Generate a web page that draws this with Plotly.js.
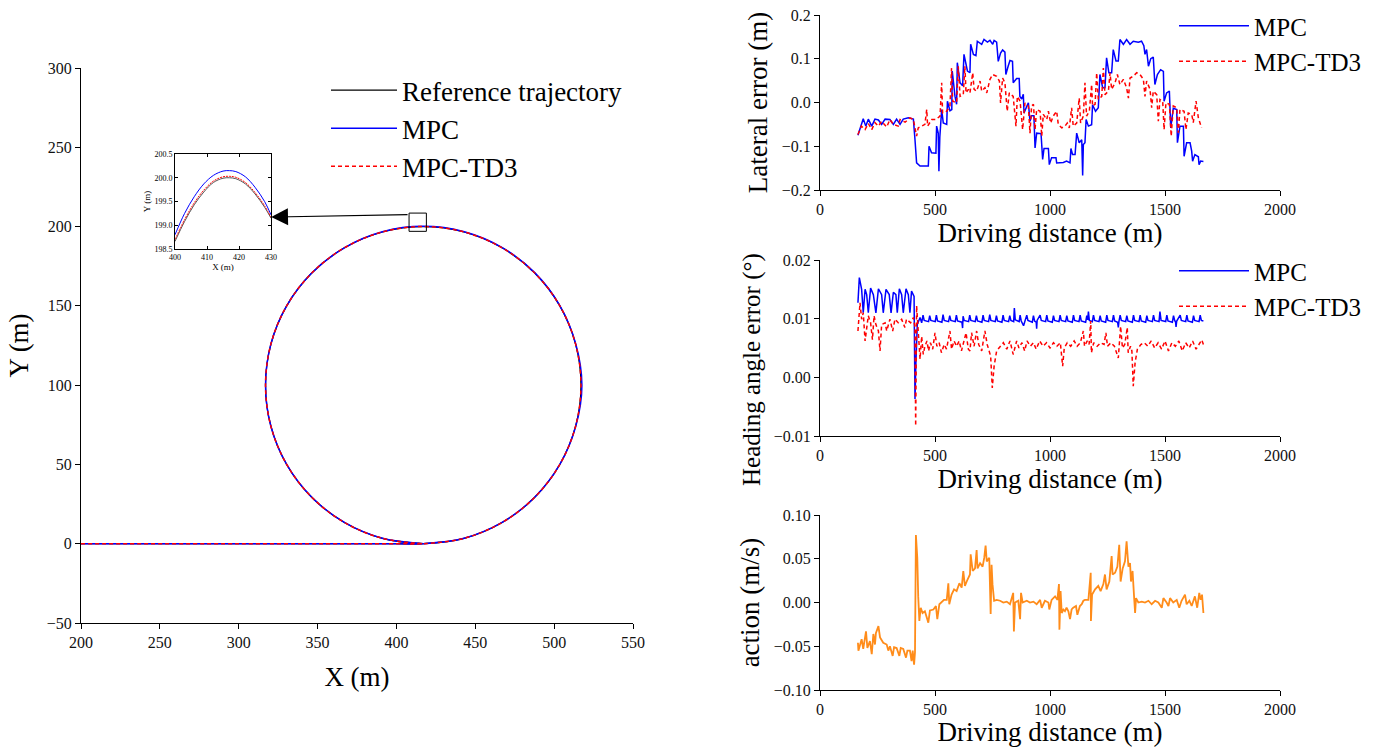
<!DOCTYPE html>
<html>
<head>
<meta charset="utf-8">
<script src="https://cdn.plot.ly/plotly-3.0.1.min.js"></script>
<style>html,body{margin:0;padding:0;background:#fff;}#chart{width:1386px;height:747px;}</style>
</head>
<body>
<div id="chart"></div>
<script>
// ---------------- DATA ----------------
// Trajectory (main plot): straight lead-in then circle (X, Y in m)
const trajRef = [[200,0],[300,0],[400,0],[417,0],[442.9,3.4],[467,13.4],[487.7,29.3],[503.6,50],[513.6,74.1],[517,100],[513.6,125.9],[503.6,150],[487.7,170.7],[467,186.6],[442.9,196.6],[417,200],[391.1,196.6],[367,186.6],[346.3,170.7],[330.4,150],[320.4,125.9],[317,100],[320.4,74.1],[330.4,50],[346.3,29.3],[367,13.4],[391.1,3.4],[417,0]];
const trajMPC = [[200,0],[300,0],[400,0],[417,0],[442.9,3.4],[467,13.4],[487.7,29.3],[503.6,50],[513.7,74.1],[517.6,100],[513.7,125.9],[503.7,150],[487.8,170.8],[467.1,186.7],[443,196.7],[417,200.15],[391.1,196.7],[367,186.6],[346.3,170.7],[330.4,150],[320.4,125.9],[317,100],[320.4,74.1],[330.4,50],[346.3,29.3],[367,13.4],[391.1,3.4],[417,0]];
const trajTD3 = [[200,0],[300,0],[400,0],[417,0],[442.9,3.4],[467,13.4],[487.7,29.3],[503.6,50],[513.6,74.1],[517,100],[513.6,125.9],[503.6,150],[487.7,170.7],[467,186.6],[442.9,196.6],[417,200.03],[391.1,196.6],[367,186.6],[346.3,170.7],[330.4,150],[320.4,125.9],[317,100],[320.4,74.1],[330.4,50],[346.3,29.3],[367,13.4],[391.1,3.4],[417,0]];

// Inset (zoom near the top of the circle)
const insetX    = [400,403,406,409,412,415,417,419,422,425,428,430];
const insetRefY = [198.66,199.08,199.43,199.70,199.90,199.99,200.00,199.98,199.87,199.66,199.38,199.15];
const insetMPCY = [198.80,199.25,199.60,199.87,200.05,200.14,200.15,200.13,200.02,199.80,199.50,199.22];
const insetTD3Y = [198.70,199.12,199.47,199.74,199.93,200.02,200.03,200.01,199.90,199.69,199.41,199.17];

// Lateral error (m) vs driving distance (m)
const latMPC = [[165,-0.075],[174,-0.062],[188,-0.037],[199,-0.054],[210,-0.038],[225,-0.054],[239,-0.038],[254,-0.040],[268,-0.050],[283,-0.038],[304,-0.039],[319,-0.050],[333,-0.038],[348,-0.050],[362,-0.038],[384,-0.035],[406,-0.038],[413,-0.085],[420,-0.138],[435,-0.145],[471,-0.145],[474,-0.100],[485,-0.115],[504,-0.116],[507,-0.054],[514,-0.070],[517,-0.157],[521,-0.079],[529,-0.016],[536,-0.047],[551,-0.050],[554,0.003],[565,-0.019],[573,-0.016],[575,0.072],[587,0.014],[594,-0.004],[597,0.091],[609,0.045],[620,0.038],[626,0.110],[641,0.072],[652,0.068],[655,0.133],[667,0.110],[678,0.107],[684,0.140],[703,0.133],[713,0.144],[728,0.138],[739,0.142],[751,0.133],[757,0.142],[768,0.138],[775,0.094],[785,0.113],[794,0.120],[804,0.115],[808,0.064],[818,0.083],[826,0.096],[837,0.094],[840,0.045],[855,0.055],[866,0.055],[869,0.014],[877,0.008],[884,0.019],[887,-0.024],[898,-0.010],[906,-0.001],[913,-0.043],[920,-0.030],[930,-0.030],[935,-0.104],[942,-0.070],[961,-0.071],[968,-0.130],[974,-0.105],[993,-0.105],[997,-0.142],[1007,-0.126],[1026,-0.126],[1029,-0.138],[1043,-0.138],[1058,-0.137],[1072,-0.134],[1087,-0.138],[1091,-0.105],[1098,-0.119],[1109,-0.119],[1116,-0.070],[1127,-0.092],[1138,-0.085],[1142,-0.167],[1145,-0.096],[1152,-0.092],[1157,-0.039],[1167,-0.054],[1181,-0.051],[1185,-0.005],[1198,-0.020],[1210,-0.012],[1217,0.064],[1229,0.034],[1239,0.034],[1246,0.102],[1256,0.068],[1268,0.068],[1275,0.121],[1287,0.095],[1297,0.095],[1304,0.144],[1319,0.133],[1333,0.144],[1348,0.133],[1362,0.140],[1384,0.138],[1398,0.140],[1408,0.130],[1413,0.110],[1420,0.121],[1428,0.083],[1438,0.100],[1449,0.104],[1456,0.041],[1467,0.064],[1481,0.075],[1493,0.071],[1496,0.003],[1507,0.022],[1519,0.026],[1525,-0.058],[1536,-0.013],[1551,-0.016],[1554,-0.092],[1565,-0.054],[1580,-0.054],[1583,-0.123],[1594,-0.092],[1609,-0.092],[1616,-0.111],[1620,-0.134],[1630,-0.119],[1645,-0.124],[1648,-0.142],[1655,-0.134],[1667,-0.135]];
const latTD3 = [[165,-0.073],[180,-0.054],[196,-0.062],[210,-0.048],[225,-0.062],[239,-0.046],[254,-0.054],[268,-0.043],[290,-0.056],[304,-0.039],[319,-0.050],[340,-0.054],[348,-0.039],[370,-0.045],[391,-0.035],[406,-0.039],[420,-0.077],[427,-0.058],[442,-0.054],[456,-0.050],[464,-0.016],[468,-0.054],[486,-0.039],[504,-0.039],[522,-0.031],[529,0.045],[533,-0.024],[551,-0.020],[565,-0.008],[572,0.079],[577,0.003],[594,-0.001],[601,0.083],[609,0.014],[623,0.018],[630,0.083],[635,0.022],[645,0.030],[652,0.022],[664,0.068],[670,0.030],[681,0.026],[696,0.049],[703,0.026],[717,0.034],[725,0.022],[739,0.053],[751,0.064],[768,0.060],[780,0.049],[785,-0.001],[794,0.056],[804,0.045],[814,-0.020],[823,0.022],[840,0.014],[852,-0.054],[858,0.014],[870,0.003],[881,-0.062],[891,-0.001],[906,-0.008],[913,-0.070],[920,-0.008],[928,-0.004],[935,-0.062],[942,-0.016],[957,-0.020],[964,-0.077],[971,-0.027],[986,-0.039],[993,-0.020],[1003,-0.047],[1014,-0.031],[1029,-0.020],[1036,-0.050],[1051,-0.058],[1065,-0.054],[1075,-0.047],[1084,-0.058],[1094,-0.012],[1101,-0.054],[1116,-0.047],[1127,0.010],[1133,-0.047],[1145,-0.031],[1152,0.045],[1159,-0.031],[1171,-0.020],[1181,0.041],[1185,-0.008],[1196,-0.004],[1203,0.068],[1210,0.007],[1225,0.014],[1232,0.079],[1239,0.018],[1254,0.026],[1261,0.068],[1268,0.030],[1283,0.045],[1293,0.064],[1304,0.041],[1319,0.053],[1333,0.034],[1341,0.010],[1348,0.056],[1362,0.060],[1377,0.068],[1391,0.064],[1406,0.053],[1413,0.014],[1420,0.049],[1435,0.030],[1442,-0.012],[1449,0.026],[1464,0.018],[1471,-0.043],[1478,0.007],[1490,0.003],[1496,-0.062],[1504,-0.001],[1519,-0.004],[1527,-0.077],[1536,-0.008],[1551,-0.012],[1558,-0.069],[1565,-0.016],[1583,-0.020],[1591,-0.062],[1601,-0.024],[1616,-0.027],[1623,-0.046],[1635,0.003],[1645,-0.035],[1659,-0.058]];

// Heading angle error (°) vs driving distance (m)
const headMPC = [[165,0.0127],[171,0.0170],[181,0.0150],[188,0.0110],[196,0.0150],[203,0.0141],[210,0.0110],[220,0.0152],[232,0.0141],[243,0.0110],[254,0.0151],[268,0.0141],[275,0.0110],[287,0.0150],[301,0.0141],[309,0.0110],[319,0.0145],[330,0.0141],[336,0.0110],[345,0.0151],[355,0.0141],[362,0.0110],[374,0.0151],[384,0.0141],[391,0.0110],[398,0.0147],[409,0.0138],[413,-0.0037],[417,0.0025],[423,0.0090],[435,0.0102],[442,0.0093],
[448,0.0106],[453,0.0097],[472,0.0095],[477,0.0105],[482,0.0097],[501,0.0095],[506,0.0106],[511,0.0096],[530,0.0094],[535,0.0107],[540,0.0097],[559,0.0095],[564,0.0105],[569,0.0097],[588,0.0095],[593,0.0106],[598,0.0096],[617,0.0094],[620,0.0084],[622,0.0104],[627,0.0097],[646,0.0095],[651,0.0106],[656,0.0097],[675,0.0095],[680,0.0105],[685,0.0096],[704,0.0094],[709,0.0106],[714,0.0097],[733,0.0095],[738,0.0107],[743,0.0097],[762,0.0095],[767,0.0105],[772,0.0096],[791,0.0094],[796,0.0106],[801,0.0097],[820,0.0095],[825,0.0105],[830,0.0097],[842,0.0095],[845,0.0118],[849,0.0098],[866,0.0095],[870,0.0106],[875,0.0096],[885,0.0088],[890,0.0095],[899,0.0106],[904,0.0097],[923,0.0094],[928,0.0105],[933,0.0096],[940,0.0094],[942,0.0083],[944,0.0097],[957,0.0106],[962,0.0097],[981,0.0095],[986,0.0106],[991,0.0096],[1010,0.0094],[1015,0.0105],[1020,0.0097],[1039,0.0095],[1044,0.0106],[1049,0.0097],[1068,0.0095],[1073,0.0105],[1078,0.0096],[1097,0.0094],[1102,0.0106],[1107,0.0097],[1126,0.0095],[1131,0.0106],[1136,0.0096],[1155,0.0094],[1160,0.0105],[1164,0.0098],[1167,0.0112],[1171,0.0097],[1184,0.0095],[1189,0.0106],[1194,0.0097],[1213,0.0095],[1218,0.0105],[1223,0.0096],[1242,0.0094],[1247,0.0106],[1252,0.0097],[1271,0.0095],[1276,0.0106],[1281,0.0096],[1294,0.0094],[1297,0.0085],[1300,0.0096],[1305,0.0106],[1310,0.0097],[1329,0.0095],[1334,0.0105],[1339,0.0096],[1358,0.0094],[1363,0.0106],[1368,0.0097],[1387,0.0095],[1392,0.0106],[1397,0.0096],[1416,0.0094],[1421,0.0105],[1426,0.0097],[1445,0.0095],[1450,0.0106],[1455,0.0097],[1474,0.0095],[1478,0.0112],[1483,0.0097],[1503,0.0095],[1508,0.0106],[1513,0.0096],[1532,0.0094],[1537,0.0105],[1542,0.0097],[1546,0.0094],[1548,0.0086],[1551,0.0096],[1566,0.0106],[1571,0.0097],[1590,0.0095],[1595,0.0106],[1600,0.0096],[1619,0.0094],[1624,0.0105],[1629,0.0097],[1648,0.0095],[1653,0.0106],[1658,0.0097],[1667,0.0096]];
const headTD3 = [[165,0.0079],[174,0.0127],[181,0.0099],[188,0.0110],[196,0.0062],[203,0.0090],[210,0.0105],[220,0.0093],[228,0.0064],[235,0.0105],[243,0.0090],[254,0.0079],[261,0.0045],[268,0.0090],[283,0.0093],[290,0.0079],[304,0.0099],[316,0.0079],[326,0.0099],[340,0.0093],[355,0.0099],[369,0.0085],[376,0.0099],[394,0.0093],[406,0.0102],[413,0.0085],[416,-0.0083],[420,0.0122],[427,0.0085],[435,0.0031],[442,0.0070],[449,0.0039],[456,0.0053],[465,0.0062],[472,0.0045],[480,0.0059],[490,0.0048],[500,0.0076],[508,0.0053],[518,0.0059],[528,0.0042],[540,0.0056],[550,0.0048],[565,0.0079],[572,0.0048],[583,0.0062],[594,0.0053],[605,0.0062],[615,0.0045],[625,0.0059],[635,0.0076],[645,0.0048],[652,0.0045],[659,0.0076],[670,0.0053],[681,0.0079],[690,0.0056],[703,0.0045],[717,0.0079],[727,0.0056],[742,0.0036],[749,-0.0018],[757,0.0019],[768,0.0045],[783,0.0053],[797,0.0059],[812,0.0048],[826,0.0062],[840,0.0039],[855,0.0062],[865,0.0050],[878,0.0059],[890,0.0045],[900,0.0062],[915,0.0053],[928,0.0059],[940,0.0048],[955,0.0062],[970,0.0053],[985,0.0059],[1000,0.0050],[1015,0.0059],[1030,0.0053],[1045,0.0059],[1055,0.0019],[1062,0.0050],[1075,0.0059],[1090,0.0053],[1105,0.0062],[1118,0.0053],[1132,0.0059],[1145,0.0079],[1150,0.0053],[1162,0.0062],[1170,0.0056],[1177,0.0096],[1180,0.0042],[1190,0.0059],[1205,0.0053],[1220,0.0059],[1235,0.0056],[1243,0.0076],[1250,0.0053],[1265,0.0059],[1280,0.0053],[1297,0.0033],[1307,0.0087],[1315,0.0050],[1325,0.0056],[1336,0.0085],[1340,0.0042],[1350,0.0053],[1356,0.0045],[1362,-0.0015],[1370,0.0025],[1380,0.0048],[1395,0.0056],[1410,0.0059],[1425,0.0053],[1440,0.0062],[1455,0.0050],[1470,0.0059],[1485,0.0048],[1500,0.0062],[1515,0.0045],[1530,0.0059],[1545,0.0053],[1560,0.0062],[1575,0.0045],[1590,0.0059],[1605,0.0050],[1620,0.0062],[1635,0.0048],[1650,0.0059],[1660,0.0064],[1667,0.0056]];

// Action (m/s) vs driving distance (m)
const actionTD3 = [[165,-0.046],[167,-0.055],[181,-0.042],[188,-0.053],[200,-0.033],[206,-0.052],[217,-0.044],[225,-0.059],[232,-0.036],[239,-0.048],[243,-0.035],[254,-0.027],[261,-0.040],[268,-0.044],[275,-0.046],[290,-0.048],[297,-0.055],[304,-0.050],[316,-0.061],[322,-0.051],[333,-0.052],[345,-0.061],[351,-0.052],[362,-0.053],[374,-0.063],[380,-0.055],[391,-0.055],[398,-0.067],[403,-0.055],[409,-0.071],[413,-0.057],[417,0.077],[423,0.051],[427,0.007],[432,-0.021],[438,-0.006],[446,-0.012],[456,-0.010],[471,-0.023],[478,-0.009],[493,-0.008],[504,-0.004],[510,-0.019],[519,-0.002],[529,0.000],[539,0.003],[551,0.003],[558,0.022],[562,-0.002],[572,0.009],[583,0.015],[594,0.013],[606,0.022],[616,0.017],[623,0.036],[630,0.019],[641,0.026],[652,0.032],[655,0.055],[664,0.036],[674,0.039],[681,0.060],[685,0.039],[696,0.045],[707,0.041],[714,0.051],[720,0.065],[725,0.047],[736,0.051],[742,-0.013],[746,0.043],[750,0.021],[757,0.002],[768,0.003],[783,0.002],[797,0.000],[812,0.001],[826,-0.002],[840,0.011],[843,-0.033],[848,0.000],[862,0.002],[870,-0.019],[874,0.011],[881,0.000],[899,0.002],[913,0.000],[928,0.001],[942,-0.002],[957,0.003],[964,-0.006],[978,0.002],[993,0.000],[997,-0.008],[1007,0.003],[1022,0.007],[1032,0.003],[1039,0.021],[1041,-0.031],[1046,0.013],[1051,-0.012],[1058,-0.008],[1065,-0.010],[1072,-0.006],[1080,-0.010],[1087,-0.019],[1094,-0.008],[1101,-0.006],[1113,-0.004],[1119,-0.014],[1130,-0.004],[1138,-0.002],[1145,0.002],[1152,0.003],[1167,0.003],[1177,0.034],[1178,-0.021],[1183,0.009],[1196,0.015],[1210,0.019],[1220,0.013],[1232,0.021],[1239,0.032],[1246,0.015],[1258,0.024],[1268,0.053],[1272,0.032],[1283,0.034],[1293,0.041],[1301,0.066],[1307,0.024],[1316,0.039],[1326,0.047],[1333,0.070],[1341,0.041],[1348,0.045],[1352,0.024],[1359,0.036],[1365,0.009],[1370,-0.012],[1374,0.005],[1384,0.000],[1399,0.001],[1413,0.000],[1428,0.002],[1442,-0.002],[1457,0.002],[1471,0.000],[1486,-0.006],[1493,0.005],[1507,0.000],[1515,-0.004],[1522,0.005],[1536,0.000],[1551,0.003],[1562,-0.006],[1572,0.002],[1587,0.009],[1594,-0.002],[1606,0.002],[1616,-0.004],[1630,0.007],[1640,-0.006],[1649,0.011],[1655,0.003],[1661,0.009],[1667,-0.012]];

const seriesNames = ['Reference trajectory','MPC','MPC-TD3'];
const xTicksMain = [200,250,300,350,400,450,500,550];
const yTicksMain = [-50,0,50,100,150,200,250,300];
const distTicks = [0,500,1000,1500,2000];

// ---------------- BUILD ----------------
const col = (arr,i) => arr.map(p => p[i]);
const FONT = 'Liberation Serif, DejaVu Serif, serif';
const BLUE = '#0000ff', RED = '#ff0000', ORANGE = '#ff8c1a';
const DASH = '4px,3px';

const traces = [
  {x: col(trajRef,0), y: col(trajRef,1), xaxis:'x', yaxis:'y', mode:'lines', name:seriesNames[0],
   line:{color:'#000', width:1.2, shape:'spline'}, legend:'legend'},
  {x: col(trajMPC,0), y: col(trajMPC,1), xaxis:'x', yaxis:'y', mode:'lines', name:seriesNames[1],
   line:{color:BLUE, width:1.5, shape:'spline'}, legend:'legend'},
  {x: col(trajTD3,0), y: col(trajTD3,1), xaxis:'x', yaxis:'y', mode:'lines', name:seriesNames[2],
   line:{color:RED, width:1.5, shape:'spline', dash:DASH}, legend:'legend'},

  {x: insetX, y: insetRefY, xaxis:'x2', yaxis:'y2', mode:'lines', showlegend:false, line:{color:'#555', width:1, shape:'spline'}},
  {x: insetX, y: insetTD3Y, xaxis:'x2', yaxis:'y2', mode:'lines', showlegend:false, line:{color:RED, width:1, shape:'spline', dash:'2px,1px'}},
  {x: insetX, y: insetMPCY, xaxis:'x2', yaxis:'y2', mode:'lines', showlegend:false, line:{color:BLUE, width:1, shape:'spline'}},

  {x: col(latMPC,0), y: col(latMPC,1), xaxis:'x3', yaxis:'y3', mode:'lines', name:'MPC',
   line:{color:BLUE, width:1.5}, legend:'legend2'},
  {x: col(latTD3,0), y: col(latTD3,1), xaxis:'x3', yaxis:'y3', mode:'lines', name:'MPC-TD3',
   line:{color:RED, width:1.5, dash:DASH}, legend:'legend2'},

  {x: col(headMPC,0), y: col(headMPC,1), xaxis:'x4', yaxis:'y4', mode:'lines', name:'MPC',
   line:{color:BLUE, width:1.5}, legend:'legend3'},
  {x: col(headTD3,0), y: col(headTD3,1), xaxis:'x4', yaxis:'y4', mode:'lines', name:'MPC-TD3',
   line:{color:RED, width:1.5, dash:DASH}, legend:'legend3'},

  {x: col(actionTD3,0), y: col(actionTD3,1), xaxis:'x5', yaxis:'y5', mode:'lines', showlegend:false,
   line:{color:ORANGE, width:1.8}}
];

const W = 1386, H = 747;
const dx = (a,b) => [a/W, b/W];
const dy = (top,bot) => [1-bot/H, 1-top/H];
const TITLE = 27;

const baseAxis = {
  showline:true, linecolor:'#000', linewidth:1, ticks:'outside', ticklen:5, tickwidth:1, tickcolor:'#000',
  showgrid:false, zeroline:false, tickfont:{family:FONT, size:16, color:'#111'}, automargin:false
};
const rightX = (anchor) => Object.assign({}, baseAxis, {
  domain: dx(820,1280), anchor, range:[0,2000], tickvals:distTicks, ticktext:distTicks.map(String),
  title:{text:'Driving distance (m)', font:{family:FONT, size:TITLE, color:'#000'}, standoff:0}
});
const inFont = {family:FONT, size:8, color:'#000'};

const layout = {
  width:W, height:H, margin:{l:0,r:0,t:0,b:0}, paper_bgcolor:'#fff', plot_bgcolor:'rgba(0,0,0,0)',
  font:{family:FONT, color:'#000'},
  xaxis: Object.assign({}, baseAxis, {domain:dx(81,633), anchor:'y', range:[200,550], tickvals:xTicksMain,
    title:{text:'X (m)', font:{family:FONT, size:TITLE}, standoff:16}}),
  yaxis: Object.assign({}, baseAxis, {domain:dy(68,623), anchor:'x', range:[-50,300], tickvals:yTicksMain,
    title:{text:'Y (m)', font:{family:FONT, size:TITLE}, standoff:10}}),
  xaxis2: Object.assign({}, baseAxis, {domain:dx(175,271), anchor:'y2', range:[400,430], tickvals:[400,410,420,430],
    mirror:'ticks', ticks:'inside', ticklen:3, tickfont:inFont,
    title:{text:'X (m)', font:{family:FONT, size:9, color:'#000'}, standoff:2}}),
  yaxis2: Object.assign({}, baseAxis, {domain:dy(154,249), anchor:'x2', range:[198.5,200.5], tickvals:[198.5,199,199.5,200,200.5],
    tickformat:'.1f', mirror:'ticks', ticks:'inside', ticklen:3, tickfont:inFont,
    title:{text:'Y (m)', font:{family:FONT, size:9, color:'#000'}, standoff:2}}),
  xaxis3: rightX('y3'),
  yaxis3: Object.assign({}, baseAxis, {domain:dy(15,190), anchor:'x3', range:[-0.2,0.2], tickvals:[-0.2,-0.1,0,0.1,0.2], tickformat:'.1f',
    title:{text:'Lateral error (m)', font:{family:FONT, size:TITLE}, standoff:6}}),
  xaxis4: rightX('y4'),
  yaxis4: Object.assign({}, baseAxis, {domain:dy(260,436), anchor:'x4', range:[-0.01,0.02], tickvals:[-0.01,0,0.01,0.02], tickformat:'.2f'}),
  xaxis5: rightX('y5'),
  yaxis5: Object.assign({}, baseAxis, {domain:dy(515,690), anchor:'x5', range:[-0.1,0.1], tickvals:[-0.1,-0.05,0,0.05,0.1], tickformat:'.2f',
    title:{text:'action (m/s)', font:{family:FONT, size:TITLE}, standoff:6}}),
  legend: {x:326/W, y:1-66/H, xanchor:'left', yanchor:'top', bgcolor:'rgba(0,0,0,0)', borderwidth:0,
    font:{family:FONT, size:27, color:'#000'}, itemwidth:66, tracegroupgap:0},
  legend2: {x:1174/W, y:1-3/H, xanchor:'left', yanchor:'top', bgcolor:'rgba(0,0,0,0)', borderwidth:0,
    font:{family:FONT, size:25, color:'#000'}, itemwidth:70},
  legend3: {x:1174/W, y:1-248/H, xanchor:'left', yanchor:'top', bgcolor:'rgba(0,0,0,0)', borderwidth:0,
    font:{family:FONT, size:25, color:'#000'}, itemwidth:70},
  shapes: [
    {type:'rect', xref:'x', yref:'y', x0:408, x1:419, y0:197, y1:208.5, line:{color:'#000', width:1}}
  ],
  annotations: [
    {xref:'x', yref:'y', axref:'x', ayref:'y', x:320.6, y:206, ax:408, ay:207.6, text:'', showarrow:true,
     arrowhead:2, arrowsize:2.8, arrowwidth:1.2, arrowcolor:'#000'},
    {xref:'paper', yref:'paper', x:752/W, y:1-370/H, xanchor:'center', yanchor:'middle', textangle:-90,
     showarrow:false, text:'Heading angle error (°)', font:{family:FONT, size:25, color:'#000'}}
  ]
};

Plotly.newPlot('chart', traces, layout, {displayModeBar:false, staticPlot:true});
</script>
</body>
</html>
